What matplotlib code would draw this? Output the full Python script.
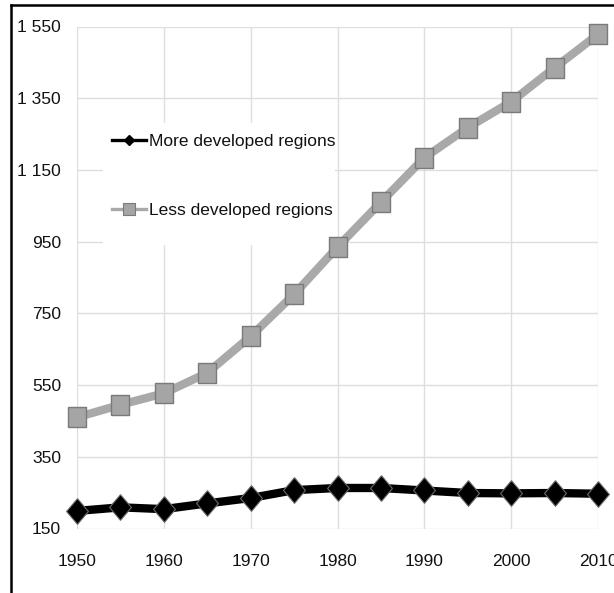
#!/usr/bin/env python3
"""Population by development group, 1950-2010 (line chart with markers)."""

import matplotlib
matplotlib.use("Agg")
import matplotlib.pyplot as plt
from matplotlib.lines import Line2D
from matplotlib.patches import Rectangle

YEARS = [1950, 1955, 1960, 1965, 1970, 1975, 1980, 1985, 1990, 1995, 2000, 2005, 2010]
MORE_DEVELOPED = [199, 209, 204, 220, 235, 257, 263, 263, 256, 249, 248, 249, 247]
LESS_DEVELOPED = [460, 495, 527, 584, 686, 803, 935, 1060, 1184, 1268, 1340, 1435, 1528]
SERIES_LABELS = ["More developed regions", "Less developed regions"]

Y_TICKS = [150, 350, 550, 750, 950, 1150, 1350, 1550]
Y_TICK_LABELS = ["150", "350", "550", "750", "950", "1 150", "1 350", "1 550"]
X_TICKS = [1950, 1960, 1970, 1980, 1990, 2000, 2010]

# slightly taller-than-wide markers, as in the source picture
DIAMOND = [(0, 1), (0.85, 0), (0, -1), (-0.85, 0), (0, 1)]
SQUARE = [(-0.85, -1), (0.85, -1), (0.85, 1), (-0.85, 1), (-0.85, -1)]

FS = 12.5
plt.rcParams["font.family"] = ["Liberation Sans", "DejaVu Sans"]

W, H = 614, 593
fig = plt.figure(figsize=(W / 100, H / 100), dpi=100)
ax = fig.add_axes([77 / W, 1 - 528.5 / H, (598 - 77) / W, (528.5 - 26.5) / H])

ax.plot(YEARS, LESS_DEVELOPED, color="#a9a9a9", lw=6, marker=SQUARE,
        markersize=14.5, markerfacecolor="#a5a5a5", markeredgecolor="#7a7a7a",
        markeredgewidth=1.0, clip_on=False, zorder=3)
ax.plot(YEARS, MORE_DEVELOPED, color="black", lw=6, marker=DIAMOND,
        markersize=18.5, markerfacecolor="black", markeredgecolor="#6a6a6a",
        markeredgewidth=0.8, clip_on=False, zorder=4)

ax.set_xlim(1950, 2010)
ax.set_ylim(150, 1550)
ax.set_xticks(X_TICKS)
ax.set_xticklabels([str(x) for x in X_TICKS])
ax.set_yticks(Y_TICKS)
ax.set_yticklabels(Y_TICK_LABELS)
ax.tick_params(axis="x", length=0, pad=18, labelsize=FS, colors="#111111")
ax.tick_params(axis="y", length=0, pad=11.5, labelsize=FS, colors="#111111")

for side in ax.spines.values():
    side.set_visible(False)
ax.grid(True, color="#dedede", linewidth=1.0)
ax.set_axisbelow(True)

# white legend background that hides the gridlines (above grid, below lines)
ax.add_patch(Rectangle((103 / W, 1 - 245 / H), (335 - 103) / W, (245 - 123) / H,
                       transform=fig.transFigure, facecolor="white",
                       edgecolor="none", zorder=1, clip_on=False))

handles = [
    Line2D([], [], color="black", lw=2.4, marker="D", markersize=5.5,
           markerfacecolor="black", markeredgecolor="black"),
    Line2D([], [], color="#a9a9a9", lw=2.4, marker="s", markersize=8,
           markerfacecolor="#a5a5a5", markeredgecolor="#7a7a7a", markeredgewidth=0.8),
]
leg = fig.legend(handles, SERIES_LABELS, loc="upper left",
                 bbox_to_anchor=(112 / W, 1 - 134 / H), frameon=False,
                 fontsize=FS, handlelength=1.95, handletextpad=0.17,
                 labelspacing=3.1, borderpad=0, borderaxespad=0)
for t in leg.get_texts():
    t.set_color("#111111")

# outer frame: only top and left edges fall inside the crop
fig.add_artist(Line2D([11 / W, 1], [1 - 5 / H, 1 - 5 / H], color="black", lw=1.8,
                      transform=fig.transFigure))
fig.add_artist(Line2D([11 / W, 11 / W], [0, 1 - 5 / H], color="black", lw=1.8,
                      transform=fig.transFigure))

fig.savefig("out.png", dpi=100, facecolor="white")
